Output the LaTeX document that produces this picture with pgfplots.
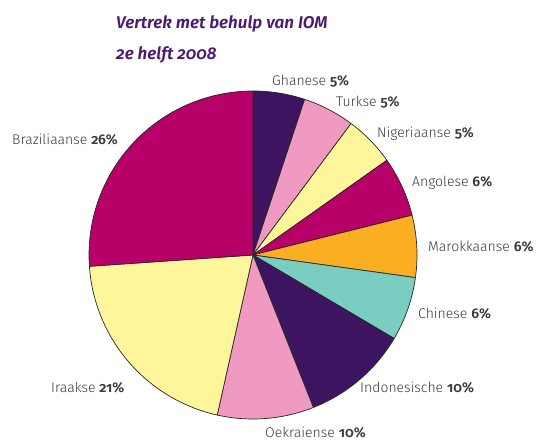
\documentclass[border=0pt]{standalone}
\usepackage{pgfplots}
\pgfplotsset{compat=1.18}
\usepackage{fontspec}
\setmainfont{Fira Sans}[UprightFont={* Light}, BoldFont={* SemiBold}, RawFeature=+onum]
\newfontfamily\titlefont{Fira Sans SemiBold Italic}[RawFeature=+onum]

\definecolor{cpurple}{HTML}{3D1460}
\definecolor{cpink}{HTML}{F09AC1}
\definecolor{cyellow}{HTML}{FFF69C}
\definecolor{cmagenta}{HTML}{B70068}
\definecolor{corange}{HTML}{FAAF23}
\definecolor{cteal}{HTML}{79CDC1}
\definecolor{ctitle}{HTML}{4B1A6F}
\definecolor{ctext}{HTML}{3A3A3A}

% pie centre (253,187) radius 164 in pixel units of the axis
% \slice{colour}{cumulative percent before}{percent}
\newcommand\slice[3]{%
  \pgfmathsetmacro\hi{90-3.6*(#2)}%
  \pgfmathsetmacro\lo{90-3.6*(#2+#3)}%
  \edef\temp{\noexpand\addplot[fill=#1, draw=black!85, line width=0.7pt,
      line join=round, domain=\lo:\hi, samples=60]
      ({253+164*cos(x)},{187+164*sin(x)}) -- (axis cs:253,187) -- cycle;}%
  \temp}

\tikzset{lbl/.style={anchor=base west, inner sep=0pt, text=ctext,
    font=\fontsize{14bp}{16bp}\selectfont}}

\begin{document}
\begin{tikzpicture}
\begin{axis}[scale only axis, width=541bp, height=442bp,
    xmin=0, xmax=541, ymin=0, ymax=442, hide axis, clip=false]
\slice{cpurple}{0}{5.1}     % Ghanese
\slice{cpink}{5.1}{5.1}     % Turkse
\slice{cyellow}{10.2}{5.0}  % Nigeriaanse
\slice{cmagenta}{15.2}{5.9} % Angolese
\slice{corange}{21.1}{6.1}  % Marokkaanse
\slice{cteal}{27.2}{6.3}    % Chinese
\slice{cpurple}{33.5}{10.5} % Indonesische
\slice{cpink}{44.0}{9.5}    % Oekraiense
\slice{cyellow}{53.5}{20.4} % Iraakse
\slice{cmagenta}{73.9}{26.1}% Braziliaanse

\node[anchor=base west, inner sep=0pt, text=ctitle,
  font=\titlefont\fontsize{17bp}{20bp}\selectfont] at (axis cs:116,413) {Vertrek met behulp van IOM};
\node[anchor=base west, inner sep=0pt, text=ctitle,
  font=\titlefont\fontsize{17bp}{20bp}\selectfont] at (axis cs:116,382) {2e helft 2008};

\node[lbl] at (axis cs:272,356) {Ghanese \textbf{5\%}};
\node[lbl] at (axis cs:336,335) {Turkse \textbf{5\%}};
\node[lbl] at (axis cs:377,304) {Nigeriaanse \textbf{5\%}};
\node[lbl] at (axis cs:412,255) {Angolese \textbf{6\%}};
\node[lbl] at (axis cs:428,190) {Marokkaanse \textbf{6\%}};
\node[lbl] at (axis cs:418,123) {Chinese \textbf{6\%}};
\node[lbl] at (axis cs:360,49) {Indonesische \textbf{10\%}};
\node[lbl] at (axis cs:265,4) {Oekraiense \textbf{10\%}};
\node[lbl] at (axis cs:51,49) {Iraakse \textbf{21\%}};
\node[lbl] at (axis cs:12,297) {Braziliaanse \textbf{26\%}};
\end{axis}
\pgfresetboundingbox
\useasboundingbox (current axis.south west) rectangle (current axis.north east);
\end{tikzpicture}
\end{document}
